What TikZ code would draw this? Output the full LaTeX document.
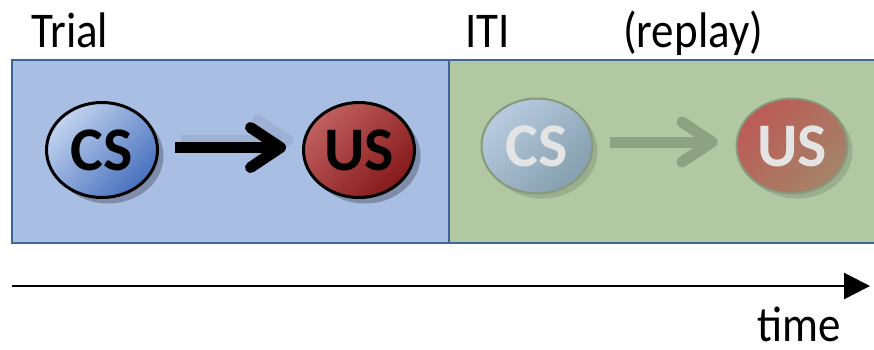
\documentclass[tikz,border=0pt]{standalone}
\usepackage{fontspec}
\usepackage{graphicx}
\setmainfont{Carlito}
\usetikzlibrary{arrows.meta,shadows,shapes.geometric}
\definecolor{trialfill}{HTML}{A9BEE3}
\definecolor{itifill}{HTML}{B1C8A3}
\definecolor{frameblue}{HTML}{41649B}
\definecolor{csA}{HTML}{C2D4EF}
\definecolor{csB}{HTML}{4770BE}
\definecolor{usA}{HTML}{C06060}
\definecolor{usB}{HTML}{861818}
\definecolor{rcsA}{HTML}{B8CBE0}
\definecolor{rcsB}{HTML}{849FAE}
\definecolor{rusA}{HTML}{BC5A56}
\definecolor{rusB}{HTML}{A48468}
\definecolor{rborder}{HTML}{88987C}
\definecolor{rarrow}{HTML}{8EA180}
\definecolor{rtext}{HTML}{E4E4E4}
\definecolor{ashadow}{HTML}{91A3C6}
\newcommand\lbltext[1]{\scalebox{0.9}[1]{#1}}
\newcommand\stimtext[1]{\scalebox{1.0}[1]{#1}}
\begin{document}
\begin{tikzpicture}[x=1pt,y=-1pt,
  lbl/.style={inner sep=0pt, anchor=base west, font=\fontsize{50}{50}\selectfont},
  panel/.style={draw=frameblue, line width=2pt},
  stim/.style={ellipse, minimum width=111pt, minimum height=95pt, inner sep=0pt,
     font=\fontsize{62}{62}\selectfont\bfseries},
  trialstim/.style={stim, draw=black, line width=3pt,
     drop shadow={shadow xshift=6pt, shadow yshift=-6pt, opacity=0.25, fill=black}},
  replaystim/.style={stim, draw=rborder, line width=2pt, text=rtext,
     drop shadow={shadow xshift=5pt, shadow yshift=-5pt, opacity=0.12, fill=black}},
  bigarrow/.style={line width=11pt, -{Straight Barb[length=30pt, width=40pt, round]}},
]
\clip (0,0) rectangle (874,349);
\useasboundingbox (0,0) rectangle (874,349);
\fill[white] (0,0) rectangle (874,349);
% panels
\draw[panel, fill=trialfill] (12,60) rectangle (449,243);
\draw[panel, fill=itifill] (449,60) rectangle (880,243);
% labels
\node[lbl] (trial) at (31,47) {\lbltext{Trial}};
\node[lbl] (iti) at (465,47) {\lbltext{ITI}};
\node[lbl] (replay) at (623,47) {\lbltext{(replay)}};
\node[lbl] (time) at (757,341) {\lbltext{time}};
% trial stimuli
\node[trialstim, top color=csA, bottom color=csB, shading angle=45] (cs1) at (102,150) {\stimtext{CS}};
\node[trialstim, top color=usA, bottom color=usB, shading angle=45] (us1) at (359,150) {\stimtext{US}};
\draw[bigarrow, draw=ashadow, opacity=0.45]
  ([xshift=22pt,yshift=10pt]cs1.east) -- ([xshift=-9pt,yshift=10pt]us1.west);
\draw[bigarrow, draw=black]
  ([xshift=16pt,yshift=2.5pt]cs1.east) -- ([xshift=-16pt,yshift=2.5pt]us1.west);
% replay stimuli
\node[replaystim, top color=rcsA, bottom color=rcsB, shading angle=45] (cs2) at (537,146) {\stimtext{CS}};
\node[replaystim, top color=rusA, bottom color=rusB, shading angle=45] (us2) at (792,146) {\stimtext{US}};
\draw[bigarrow, draw=rarrow]
  ([xshift=16pt,yshift=4pt]cs2.east) -- ([xshift=-18pt,yshift=4pt]us2.west);
% time axis
\coordinate (t0) at (12,286);
\coordinate (t1) at (870,286);
\draw[line width=2.5pt, -{Triangle[length=26pt, width=26pt]}] (t0) -- (t1);
\end{tikzpicture}
\end{document}
